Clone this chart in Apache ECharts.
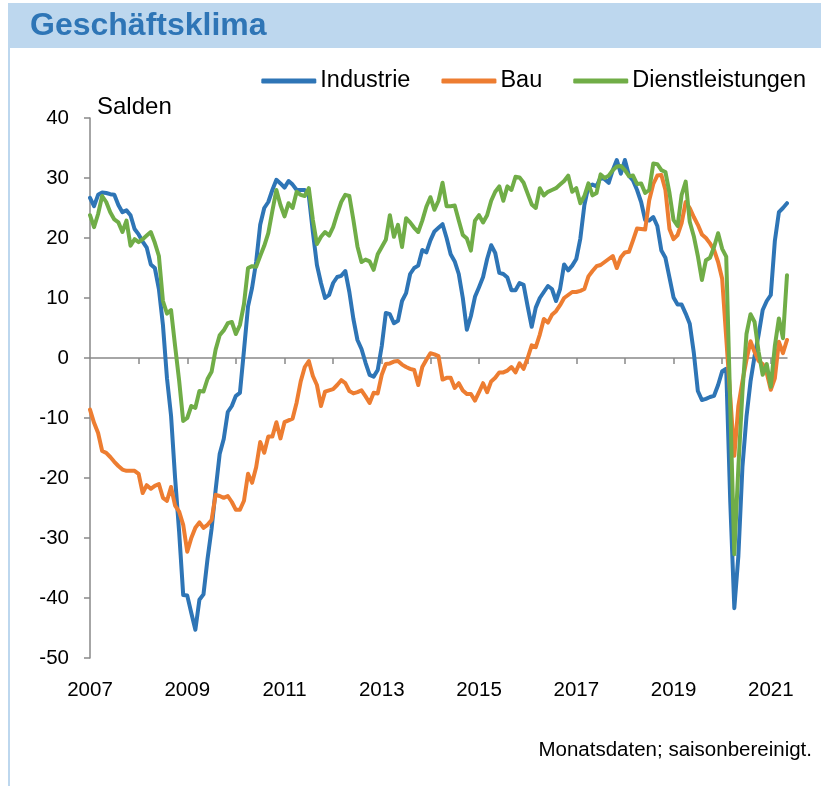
<!DOCTYPE html>
<html>
<head>
<meta charset="utf-8">
<script src="https://cdn.jsdelivr.net/npm/echarts@6/dist/echarts.min.js"></script>
<style>
  html, body { margin: 0; padding: 0; background: #fff; }
  #main { width: 821px; height: 786px; }
</style>
</head>
<body>
<div id="main"></div>
<script>
// Geschaeftsklima, Salden, Monatsdaten ab Jan 2007
var startYear = 2007;
var yearLabels = ["2007", "2009", "2011", "2013", "2015", "2017", "2019", "2021"];

// eine Zeile pro Jahr
var industrie = [
  26.7, 25.3, 27.2, 27.6, 27.5, 27.3, 27.2, 25.5, 24.3, 24.6, 23.8, 21.5,
  20.6, 19.4, 18.4, 15.6, 15.0, 11.5, 5.5, -3.4, -9.6, -20.0, -29.0, -39.5,
  -39.6, -42.5, -45.3, -40.3, -39.4, -33.5, -28.5, -22.0, -16.0, -13.5, -9.0, -8.0,
  -6.3, -5.8, 1.3, 8.6, 11.7, 16.0, 22.2, 25.0, 26.0, 28.0, 29.7, 29.1,
  28.4, 29.5, 28.9, 28.0, 28.0, 28.0, 27.0, 21.0, 15.5, 12.5, 10.0, 10.5,
  12.5, 13.5, 13.7, 14.5, 11.0, 6.5, 3.0, 1.5, -0.8, -2.8, -3.1, -2.0,
  2.0, 7.5, 7.3, 5.8, 6.2, 9.5, 10.8, 14.0, 15.0, 15.4, 18.0, 17.6,
  19.6, 21.1, 21.7, 22.3, 20.0, 17.3, 16.1, 14.0, 10.0, 4.7, 7.0, 10.2,
  11.8, 13.5, 16.5, 18.8, 17.5, 14.2, 14.0, 13.4, 11.3, 11.3, 12.5, 12.2,
  8.6, 5.2, 8.4, 10.0, 11.0, 12.0, 11.5, 9.5, 11.5, 15.6, 14.6, 15.4,
  16.5, 19.9, 25.5, 28.6, 28.9, 28.6, 30.1, 29.8, 29.2, 31.3, 33.0, 30.7,
  33.0, 30.4, 29.6, 28.0, 26.0, 23.0, 22.9, 23.5, 22.0, 17.9, 16.7, 13.4,
  10.1, 8.9, 8.9, 7.4, 5.7, 0.9, -5.5, -7.0, -6.8, -6.5, -6.3, -4.5,
  -2.2, -1.8, -24.0, -41.7, -33.0, -18.2, -9.8, -3.9, 0.3, 3.9, 8.0, 9.5,
  10.5, 19.5, 24.3, 25.0, 25.8
];

var bau = [
  -8.6, -10.8, -12.5, -15.5, -15.8, -16.5, -17.3, -18.0, -18.6, -18.8, -18.8, -18.8,
  -19.3, -22.5, -21.2, -21.8, -21.3, -21.0, -23.3, -23.8, -21.5, -24.6, -25.6, -27.8,
  -32.3, -30.0, -28.3, -27.4, -28.3, -27.8, -27.0, -22.8, -23.0, -23.3, -23.0, -24.0,
  -25.3, -25.3, -23.8, -19.3, -20.8, -18.2, -14.0, -15.8, -13.1, -13.1, -10.7, -13.4,
  -10.7, -10.4, -10.1, -7.4, -3.9, -1.5, -0.5, -3.0, -4.5, -8.0, -5.6, -5.4,
  -5.2, -4.5, -3.7, -4.2, -5.5, -5.9, -5.7, -5.4, -6.4, -7.5, -5.8, -5.9,
  -2.8, -1.0, -0.9, -0.6, -0.5, -1.1, -1.5, -1.8, -2.0, -4.5, -1.5, -0.3,
  0.8, 0.6, 0.3, -3.6, -3.3, -3.3, -5.0, -4.2, -5.4, -6.0, -6.0, -7.1,
  -5.7, -4.2, -5.7, -3.9, -3.3, -2.4, -2.4, -2.1, -1.5, -2.4, -0.9, -1.8,
  0.0, 2.1, 1.8, 3.9, 6.5, 5.9, 7.2, 7.8, 8.8, 10.0, 10.5, 11.0,
  11.0, 11.2, 11.5, 13.6, 14.5, 15.3, 15.5, 16.0, 16.5, 17.0, 15.0, 16.8,
  17.6, 17.7, 19.6, 21.6, 21.5, 21.4, 26.3, 29.0, 30.4, 30.5, 28.0, 21.5,
  19.8, 20.5, 22.5, 26.0, 25.0, 23.5, 22.2, 20.6, 20.0, 19.1, 18.0, 16.0,
  13.2, 3.4, -6.5, -16.3, -8.0, -3.9, -0.3, 2.8, 1.0, -0.5, -1.0, -2.5,
  -5.3, -3.4, 2.7, 0.8, 3.0
];

var dienstleistungen = [
  23.8, 21.8, 24.0, 27.0, 26.0, 24.3, 23.1, 22.6, 21.0, 22.9, 18.7, 19.8,
  19.3, 19.8, 20.4, 21.0, 19.2, 17.0, 9.5, 7.4, 8.0, 2.0, -3.8, -10.5,
  -10.0, -8.0, -8.3, -5.5, -5.6, -3.5, -2.3, 1.4, 3.8, 4.6, 5.8, 6.0,
  4.0, 5.5, 9.0, 15.0, 15.3, 15.2, 17.0, 18.7, 20.8, 24.5, 28.0, 25.5,
  23.6, 25.8, 25.0, 27.7, 27.2, 27.0, 28.3, 23.0, 19.0, 20.2, 21.0, 20.4,
  21.8, 24.0, 26.0, 27.2, 27.0, 23.0, 18.6, 16.0, 16.4, 16.1, 14.7, 17.3,
  18.5, 19.7, 23.8, 20.2, 22.2, 18.5, 23.3, 22.6, 21.7, 21.0, 22.9, 25.2,
  26.8, 24.7, 26.2, 29.2, 25.3, 25.3, 25.4, 22.9, 20.5, 19.9, 17.9, 22.9,
  23.8, 22.6, 23.8, 26.2, 27.7, 28.6, 26.2, 28.6, 28.0, 30.2, 30.1, 29.2,
  27.4, 25.6, 25.0, 28.3, 27.1, 27.7, 28.0, 28.3, 28.9, 29.5, 30.4, 27.7,
  28.3, 25.8, 27.0, 29.1, 27.1, 27.5, 30.6, 30.0, 30.4, 31.3, 31.9, 32.0,
  31.3, 30.3, 30.4, 29.0, 29.1, 27.5, 28.0, 32.4, 32.3, 31.3, 31.0, 27.5,
  23.0, 22.0, 27.2, 29.4, 22.7, 20.3, 17.0, 13.0, 16.3, 16.7, 18.5, 20.8,
  18.2, 16.9, -8.0, -32.7, -18.2, -5.7, 4.0, 7.3, 6.0, 1.0, -2.8, -1.0,
  -4.8, 2.0, 6.6, 3.3, 13.8
];

var monate = [];
for (var i = 0; i < industrie.length; i++) {
  var y = startYear + Math.floor(i / 12);
  var m = (i % 12) + 1;
  monate.push(y + "-" + (m < 10 ? "0" + m : m));
}

var FONT = "'Liberation Sans', Arial, sans-serif";
var grau = "#898989";

var myChart = echarts.init(document.getElementById('main'));
myChart.setOption({
  animation: false,
  backgroundColor: "#fff",
  color: ["#2e75b6", "#ed7d31", "#70ad47"],
  textStyle: { fontFamily: FONT },
  graphic: [
    { type: "rect", left: 8, top: 3, shape: { width: 813, height: 45 }, style: { fill: "#bdd7ee" }, silent: true },
    { type: "rect", left: 8, top: 3, shape: { width: 2, height: 783 }, style: { fill: "#bdd7ee" }, silent: true },
    { type: "text", left: 30, top: 10, style: { text: "Geschäftsklima", fill: "#2e75b6", font: "bold 32px " + FONT } },
    { type: "text", left: 97, top: 95, style: { text: "Salden", fill: "#000", font: "24px " + FONT } },
    { type: "text", right: 9, top: 740, style: { text: "Monatsdaten; saisonbereinigt.", fill: "#000", font: "20.5px " + FONT } }
  ],
  legend: {
    right: 10,
    top: 64,
    icon: "roundRect",
    itemWidth: 55,
    itemHeight: 5,
    itemGap: 31,
    textStyle: { fontSize: 23.5, color: "#000", fontFamily: FONT, padding: [0, 0, 0, -1] },
    data: ["Industrie", "Bau", "Dienstleistungen"]
  },
  grid: { left: 90, right: 34, top: 118, bottom: 128, containLabel: false },
  xAxis: [
    {
      type: "category",
      data: monate,
      boundaryGap: false,
      position: "bottom",
      axisLine: { show: false, onZero: false },
      axisTick: { show: false },
      splitLine: { show: false },
      axisLabel: {
        interval: function (idx) { return idx % 24 === 0; },
        formatter: function (v) { return v.slice(0, 4); },
        fontSize: 20.5,
        color: "#000",
        margin: 22,
        fontFamily: FONT
      }
    },
    {
      type: "category",
      data: monate,
      boundaryGap: false,
      position: "bottom",
      axisLine: { show: true, onZero: true, lineStyle: { color: grau, width: 1.5 } },
      axisTick: { show: true, interval: function (idx) { return idx % 12 === 0 && idx > 0; }, length: 6, lineStyle: { color: grau, width: 1.5 } },
      axisLabel: { show: false },
      splitLine: { show: false }
    }
  ],
  yAxis: {
    type: "value",
    min: -50,
    max: 40,
    interval: 10,
    axisLine: { show: true, lineStyle: { color: grau, width: 1.5 } },
    axisTick: { show: true, length: 6, lineStyle: { color: grau, width: 1.5 } },
    splitLine: { show: false },
    axisLabel: { fontSize: 20.5, color: "#000", margin: 21, fontFamily: FONT }
  },
  series: [
    { name: "Industrie", type: "line", data: industrie, showSymbol: false, lineStyle: { width: 4, cap: "round", join: "round" } },
    { name: "Bau", type: "line", data: bau, showSymbol: false, lineStyle: { width: 4, cap: "round", join: "round" } },
    { name: "Dienstleistungen", type: "line", data: dienstleistungen, showSymbol: false, lineStyle: { width: 4, cap: "round", join: "round" } }
  ]
});
</script>
</body>
</html>
